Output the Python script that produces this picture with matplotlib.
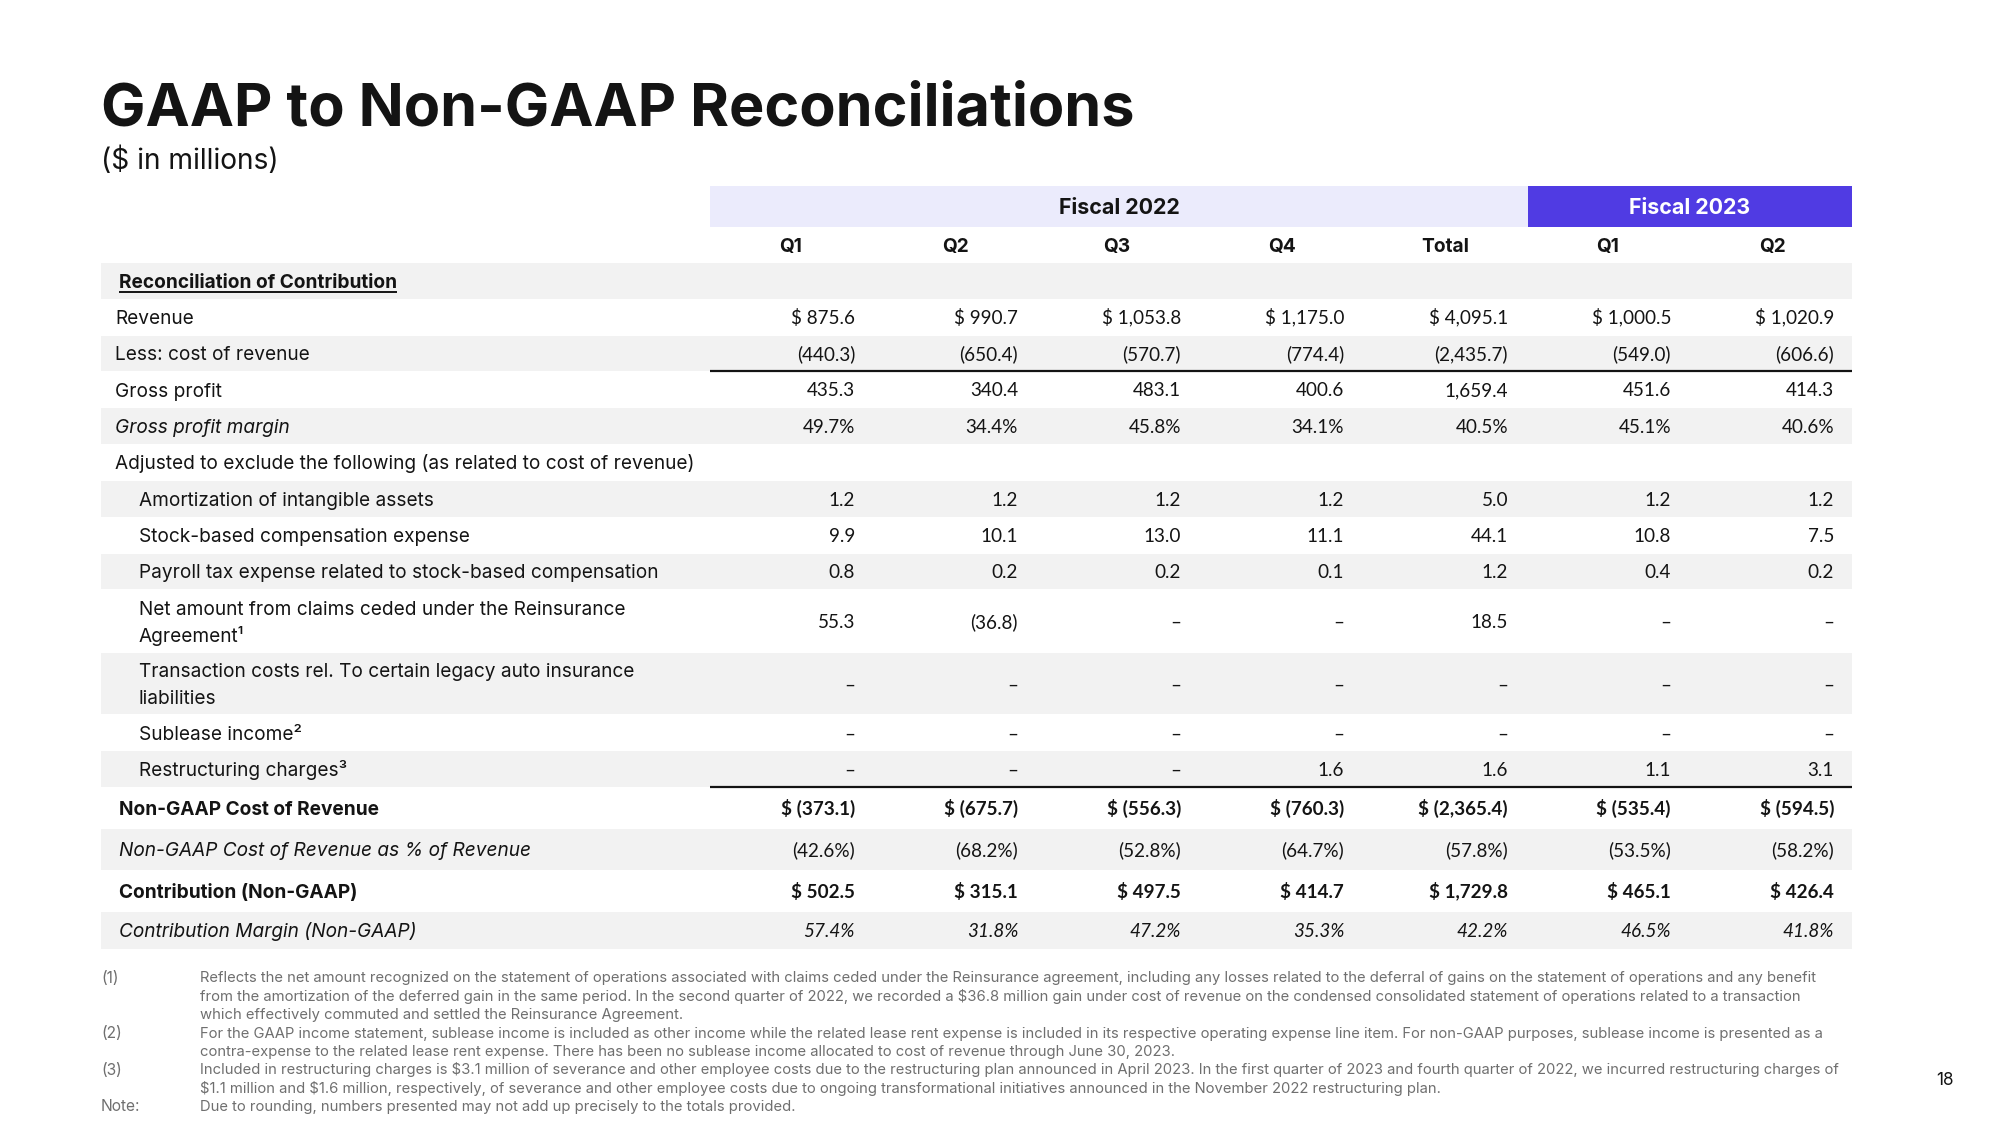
import matplotlib
matplotlib.use('Agg')
import matplotlib.pyplot as plt
from matplotlib.patches import Rectangle

# ---------------- data ----------------
fiscal_groups = ["Fiscal 2022", "Fiscal 2023"]
columns = ["Q1", "Q2", "Q3", "Q4", "Total", "Q1", "Q2"]

revenue = [875.6, 990.7, 1053.8, 1175.0, 4095.1, 1000.5, 1020.9]
cost_of_revenue = [-440.3, -650.4, -570.7, -774.4, -2435.7, -549.0, -606.6]
gross_profit = [435.3, 340.4, 483.1, 400.6, 1659.4, 451.6, 414.3]
gross_margin = [49.7, 34.4, 45.8, 34.1, 40.5, 45.1, 40.6]
amortization = [1.2, 1.2, 1.2, 1.2, 5.0, 1.2, 1.2]
stock_comp = [9.9, 10.1, 13.0, 11.1, 44.1, 10.8, 7.5]
payroll_tax = [0.8, 0.2, 0.2, 0.1, 1.2, 0.4, 0.2]
reinsurance = [55.3, -36.8, None, None, 18.5, None, None]
transaction_costs = [None, None, None, None, None, None, None]
sublease_income = [None, None, None, None, None, None, None]
restructuring = [None, None, None, 1.6, 1.6, 1.1, 3.1]
non_gaap_cor = [-373.1, -675.7, -556.3, -760.3, -2365.4, -535.4, -594.5]
non_gaap_cor_pct = [-42.6, -68.2, -52.8, -64.7, -57.8, -53.5, -58.2]
contribution = [502.5, 315.1, 497.5, 414.7, 1729.8, 465.1, 426.4]
contribution_margin = [57.4, 31.8, 47.2, 35.3, 42.2, 46.5, 41.8]

title = "GAAP to Non-GAAP Reconciliations"
subtitle = "($ in millions)"

footnotes = [
    ("(1)", ["Reflects the net amount recognized on the statement of operations associated with claims ceded under the Reinsurance agreement, including any losses related to the deferral of gains on the statement of operations and any benefit",
             "from the amortization of the deferred gain in the same period. In the second quarter of 2022, we recorded a $36.8 million gain under cost of revenue on the condensed consolidated statement of operations related to a transaction",
             "which effectively commuted and settled the Reinsurance Agreement."]),
    ("(2)", ["For the GAAP income statement, sublease income is included as other income while the related lease rent expense is included in its respective operating expense line item. For non-GAAP purposes, sublease income is presented as a",
             "contra-expense to the related lease rent expense. There has been no sublease income allocated to cost of revenue through June 30, 2023."]),
    ("(3)", ["Included in restructuring charges is $3.1 million of severance and other employee costs due to the restructuring plan announced in April 2023. In the first quarter of 2023 and fourth quarter of 2022, we incurred restructuring charges of",
             "$1.1 million and $1.6 million, respectively, of severance and other employee costs due to ongoing transformational initiatives announced in the November 2022 restructuring plan."]),
    ("Note:", ["Due to rounding, numbers presented may not add up precisely to the totals provided."]),
]
page_number = "18"

# (label lines, label style, values, value format, value style, indent)
rows = [
    (["Reconciliation of Contribution"], "section", None, None, "normal", 0),
    (["Revenue"], "plain", revenue, "dollar", "normal", 0),
    (["Less: cost of revenue"], "plain", cost_of_revenue, "num", "normal", 0),
    (["Gross profit"], "plain", gross_profit, "num", "normal", 0),
    (["Gross profit margin"], "italic", gross_margin, "pct", "normal", 0),
    (["Adjusted to exclude the following (as related to cost of revenue)"], "plain", None, None, "normal", 0),
    (["Amortization of intangible assets"], "plain", amortization, "num", "normal", 1),
    (["Stock-based compensation expense"], "plain", stock_comp, "num", "normal", 1),
    (["Payroll tax expense related to stock-based compensation"], "plain", payroll_tax, "num", "normal", 1),
    (["Net amount from claims ceded under the Reinsurance", "Agreement¹"], "plain", reinsurance, "num", "normal", 1),
    (["Transaction costs rel. To certain legacy auto insurance", "liabilities"], "plain", transaction_costs, "num", "normal", 1),
    (["Sublease income²"], "plain", sublease_income, "num", "normal", 1),
    (["Restructuring charges³"], "plain", restructuring, "num", "normal", 1),
    (["Non-GAAP Cost of Revenue"], "bold", non_gaap_cor, "dollar", "bold", 0),
    (["Non-GAAP Cost of Revenue as % of Revenue"], "italic2", non_gaap_cor_pct, "pct", "normal", 0),
    (["Contribution (Non-GAAP)"], "bold", contribution, "dollar", "bold", 0),
    (["Contribution Margin (Non-GAAP)"], "italic2", contribution_margin, "pct", "italic", 0),
]

# ---------------- layout (pixels) ----------------
W, H = 2000, 1125
row_edges = [263, 298.5, 335.5, 371.2, 408.2, 443.9, 480.9, 516.6, 553.6, 589.3,
             653.1, 714.3, 751.3, 787.0, 829.1, 869.9, 912.0, 949.0]
table_left, table_right = 101, 1852
num_left = 710
col_right = [855, 1018, 1181, 1344, 1508, 1671, 1834]
col_center = [791, 955, 1117, 1282, 1445, 1608, 1772]
group_spans = [(710, 1528), (1528, 1852)]
header_top, header_bot = 186, 227
INK = "#141414"
GRAY_BAND = "#f2f2f2"
LAVENDER = "#ebebfc"
PURPLE = "#503be3"
FOOT = "#6f6f6f"

LABEL_FONT = ['Inter', 'DejaVu Sans']
NUM_FONT = ['Lato', 'DejaVu Sans']
CAP = 0.36  # half cap-height in em, for baseline placement

fig = plt.figure(figsize=(20, 11.25), dpi=100)
ax = fig.add_axes([0, 0, 1, 1])
ax.set_xlim(0, W)
ax.set_ylim(H, 0)
ax.axis('off')
fig.canvas.draw()
renderer = fig.canvas.get_renderer()


def txt(x, y, s, **kw):
    return ax.text(x, y, s, parse_math=False, **kw)


def ctxt(x, cy, s, fs, **kw):
    """Place text so its cap-height is centred at cy."""
    return txt(x, cy + CAP * fs * 100 / 72, s, fontsize=fs, va='baseline', **kw)


def fit(t, target):
    w = t.get_window_extent(renderer).width
    t.set_fontsize(t.get_fontsize() * target / w)
    return t.get_fontsize()


def fmt(v, kind):
    if v is None:
        return "–"
    if kind == "dollar":
        return f"$ {v:,.1f}" if v >= 0 else f"$ ({-v:,.1f})"
    if kind == "pct":
        return f"{v:.1f}%" if v >= 0 else f"({-v:.1f}%)"
    return f"{v:,.1f}" if v >= 0 else f"({-v:,.1f})"


# title / subtitle
t = txt(101, 110, title, family=LABEL_FONT, weight='bold', fontsize=40,
        color=INK, va='center', ha='left')
fit(t, 1034)
t = txt(101, 161, subtitle, family=LABEL_FONT, fontsize=20, color=INK,
        va='center', ha='left')
fit(t, 178)

# measure sizes
probe = txt(0, -100, "Payroll tax expense related to stock-based compensation",
            family=LABEL_FONT, fontsize=14)
label_fs = fit(probe, 520)
probe.remove()
probe = txt(0, -100, "$ 4,095.1", family=NUM_FONT, fontsize=14)
num_fs = fit(probe, 79)
probe.remove()
probe = txt(0, -100, "Fiscal 2022", family=LABEL_FONT, weight='bold', fontsize=14)
head_fs = fit(probe, 121)
probe.remove()

# header bands
for (x0, x1), name, fc, tc in zip(group_spans, fiscal_groups, [LAVENDER, PURPLE], [INK, "white"]):
    ax.add_patch(Rectangle((x0, header_top), x1 - x0, header_bot - header_top,
                           facecolor=fc, edgecolor='none'))
    ctxt((x0 + x1) / 2, (header_top + header_bot) / 2, name, head_fs, family=LABEL_FONT,
         weight='bold', color=tc, ha='center')
for cx, c in zip(col_center, columns):
    ctxt(cx, 245, c, label_fs, family=LABEL_FONT, weight='bold', color=INK, ha='center')

# rows
for i, (lines, lstyle, vals, kind, vstyle, indent) in enumerate(rows):
    top, bot = row_edges[i], row_edges[i + 1]
    cy = (top + bot) / 2
    if i % 2 == 0:
        ax.add_patch(Rectangle((table_left, top), table_right - table_left, bot - top,
                               facecolor=GRAY_BAND, edgecolor='none'))
    x = 139 if indent else (119 if lstyle in ("section", "bold", "italic2") else 115)
    kw = dict(family=LABEL_FONT, color=INK, ha='left')
    if lstyle in ("section", "bold"):
        kw['weight'] = 'bold'
    if lstyle in ("italic", "italic2"):
        kw['style'] = 'italic'
    n = len(lines)
    for j, ln in enumerate(lines):
        ly = cy + (j - (n - 1) / 2) * 27
        tt = ctxt(x, ly, ln, label_fs, **kw)
        if lstyle == "section":
            fig.canvas.draw()
            bb = tt.get_window_extent(renderer)
            ax.plot([x, x + bb.width], [cy + 11, cy + 11], color=INK, lw=1.4,
                    solid_capstyle='butt')
    if vals is not None:
        for rx, v in zip(col_right, vals):
            vkw = dict(family=NUM_FONT, color=INK, ha='right')
            if vstyle == 'bold':
                vkw['weight'] = 'bold'
            if vstyle == 'italic':
                vkw['style'] = 'italic'
            ctxt(rx, cy, fmt(v, kind), num_fs, **vkw)

# rules under "Less: cost of revenue" and "Restructuring charges"
for yline in (row_edges[3], row_edges[13]):
    ax.plot([num_left, table_right], [yline, yline], color=INK, lw=1.6, solid_capstyle='butt')

# footnotes
probe = txt(0, -100, footnotes[2][1][0], family=LABEL_FONT, fontsize=10)
foot_fs = fit(probe, 1648)
probe.remove()
fy = 977
for marker, flines in footnotes:
    ctxt(101, fy, marker, foot_fs * 1.05, family=LABEL_FONT, color=FOOT, ha='left')
    for ln in flines:
        ctxt(200, fy, ln, foot_fs, family=LABEL_FONT, color=FOOT, ha='left')
        fy += 18.4

ctxt(1945, 1079, page_number, foot_fs * 1.15, family=LABEL_FONT, color=INK, ha='center')

fig.savefig("out.png", dpi=100, facecolor='white')
